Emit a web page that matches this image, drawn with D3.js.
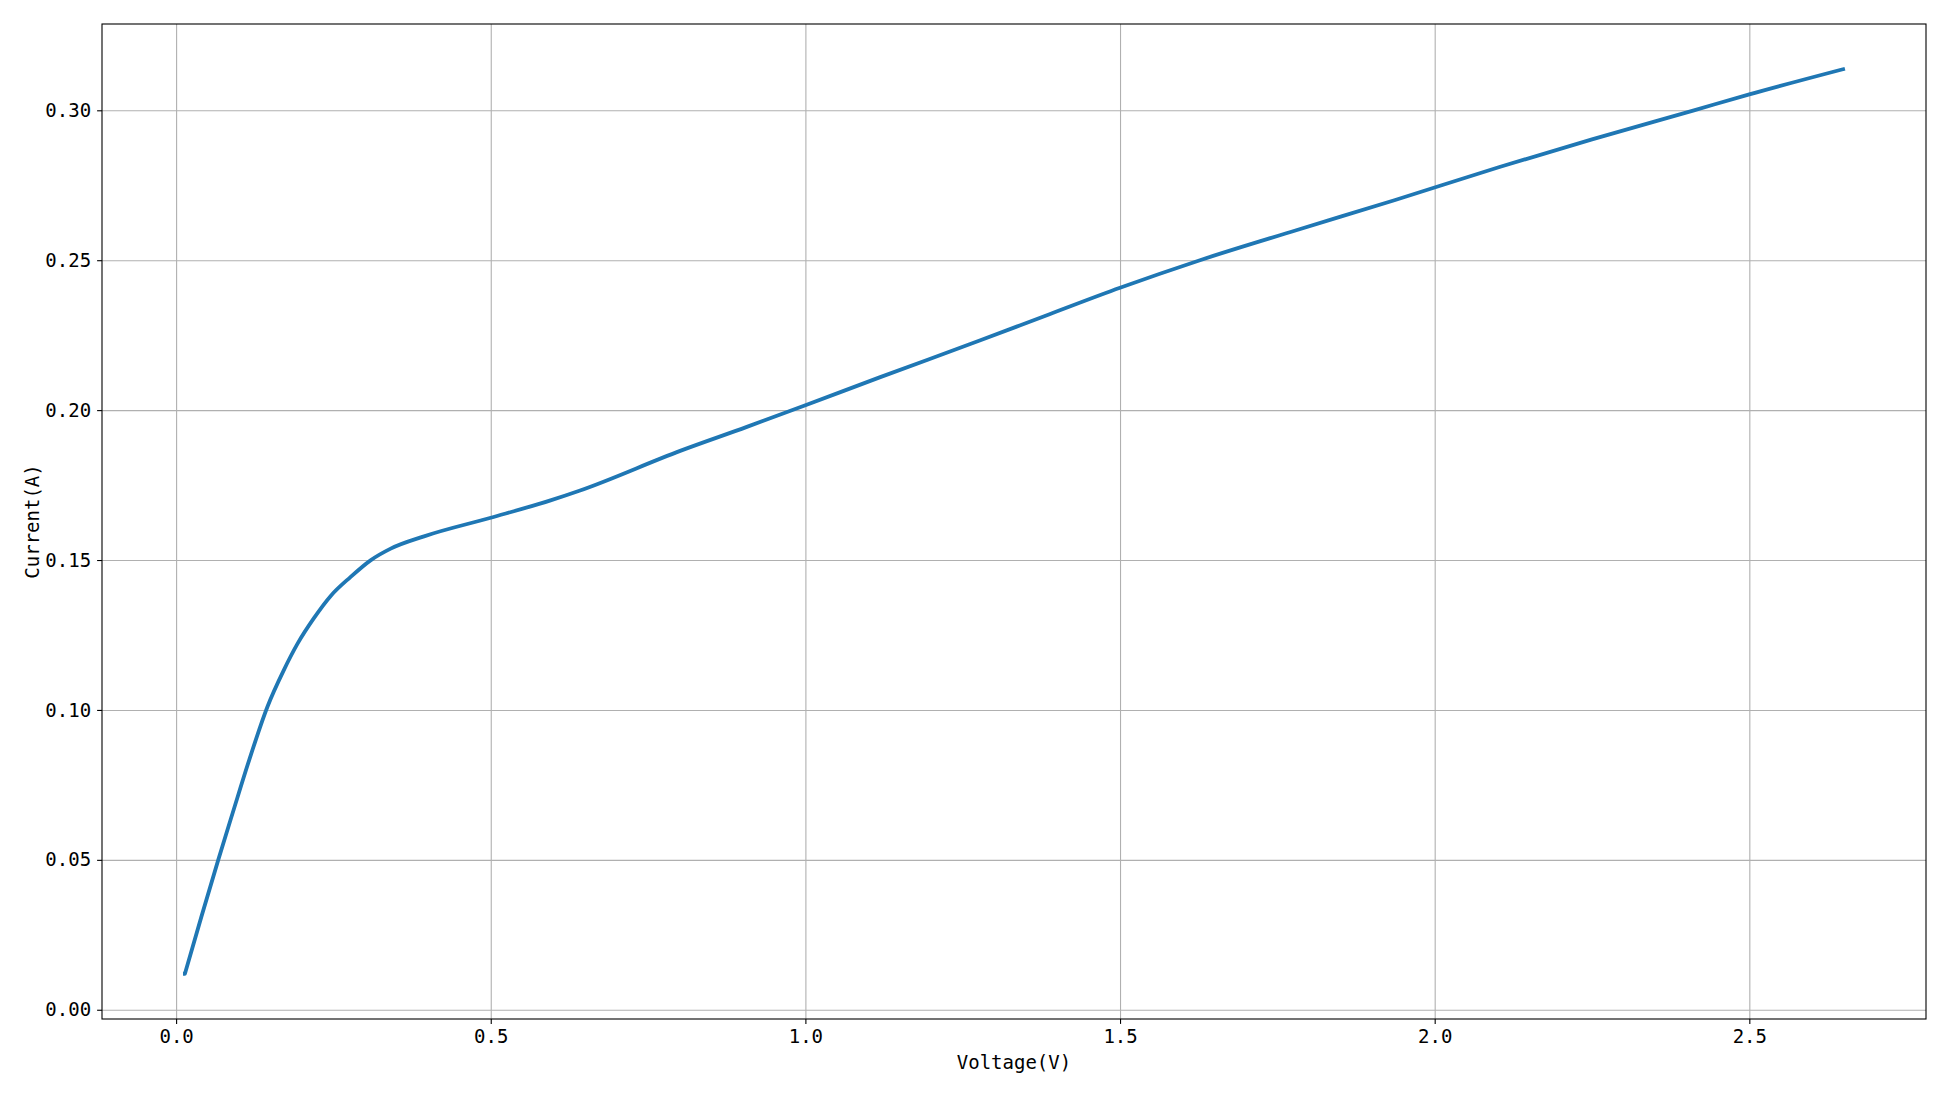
<!DOCTYPE html>
<html lang="en">
<head>
  <meta charset="utf-8">
  <title>Voltage vs Current</title>
  <style>
  body { margin: 0; background: #fff; }
  .axis text { font-family: "DejaVu Sans Mono", "Liberation Mono", monospace; font-size: 19px; fill: #000; }
  .axis path { stroke: none; }
  .axis line { stroke: #000; stroke-width: 1.1; }
  .grid line { stroke: #b0b0b0; stroke-width: 1.1; }
  .grid path { display: none; }
  .label { font-family: "DejaVu Sans Mono", "Liberation Mono", monospace; font-size: 19px; fill: #000; }
  </style>
  <script src="https://cdn.jsdelivr.net/npm/d3@7"></script>
</head>
<body>
  <svg width="1950" height="1096"></svg>
  <script>
  // voltage (V) and current (A)
  var voltage = [0.014, 0.040, 0.067, 0.090, 0.116, 0.145, 0.171, 0.193, 0.219, 0.246,
                 0.277, 0.309, 0.341, 0.394, 0.500, 0.595, 0.642, 0.801, 0.907, 1.000,
                 1.119, 1.277, 1.388, 1.500, 1.627, 1.780, 1.936, 2.103, 2.250, 2.412,
                 2.500, 2.649];
  var current = [0.0120, 0.0309, 0.0500, 0.0657, 0.0832, 0.1010, 0.1132, 0.1221, 0.1306, 0.1381,
                 0.1443, 0.1499, 0.1538, 0.1579, 0.1641, 0.1699, 0.1732, 0.1864, 0.1944, 0.2016,
                 0.2110, 0.2232, 0.2320, 0.2408, 0.2500, 0.2600, 0.2700, 0.2811, 0.2903, 0.3000,
                 0.3053, 0.3137];
  var xTicks = [0, 0.5, 1.0, 1.5, 2.0, 2.5];
  var yTicks = [0, 0.05, 0.10, 0.15, 0.20, 0.25, 0.30];

  var svg = d3.select("svg"),
      margin = {top: 24, right: 24, bottom: 77, left: 102},
      width = +svg.attr("width") - margin.left - margin.right,
      height = +svg.attr("height") - margin.top - margin.bottom,
      g = svg.append("g").attr("transform", "translate(" + margin.left + "," + margin.top + ")");

  var data = voltage.map(function(v, i) { return {v: v, c: current[i]}; });

  // matplotlib-style 5% padding
  function pad(ext) { var m = (ext[1] - ext[0]) * 0.05; return [ext[0] - m, ext[1] + m]; }

  var x = d3.scaleLinear().domain(pad(d3.extent(voltage))).range([0, width]);
  var y = d3.scaleLinear().domain(pad(d3.extent(current))).range([height, 0]);

  g.append("g")
      .attr("class", "grid")
      .attr("transform", "translate(0," + height + ")")
      .call(d3.axisBottom(x).tickValues(xTicks).tickSize(-height).tickFormat(""));

  g.append("g")
      .attr("class", "grid")
      .call(d3.axisLeft(y).tickValues(yTicks).tickSize(-width).tickFormat(""));

  var line = d3.line()
      .curve(d3.curveMonotoneX)
      .x(function(d) { return x(d.v); })
      .y(function(d) { return y(d.c); });

  g.append("path")
      .datum(data)
      .attr("fill", "none")
      .attr("stroke", "#1f77b4")
      .attr("stroke-width", 3.8)
      .attr("stroke-linecap", "square")
      .attr("d", line);

  g.append("rect")
      .attr("width", width)
      .attr("height", height)
      .attr("fill", "none")
      .attr("stroke", "#000")
      .attr("stroke-width", 1.1);

  g.append("g")
      .attr("class", "axis")
      .attr("transform", "translate(0," + height + ")")
      .call(d3.axisBottom(x).tickValues(xTicks).tickSize(4.9).tickPadding(6).tickFormat(d3.format(".1f")));

  g.append("g")
      .attr("class", "axis")
      .call(d3.axisLeft(y).tickValues(yTicks).tickSize(4.9).tickPadding(6).tickFormat(d3.format(".2f")));

  g.append("text")
      .attr("class", "label")
      .attr("x", width / 2)
      .attr("y", height + 50)
      .attr("text-anchor", "middle")
      .text("Voltage(V)");

  g.append("text")
      .attr("class", "label")
      .attr("transform", "translate(" + (-63) + "," + (height / 2) + ") rotate(-90)")
      .attr("text-anchor", "middle")
      .text("Current(A)");
  </script>
</body>
</html>
